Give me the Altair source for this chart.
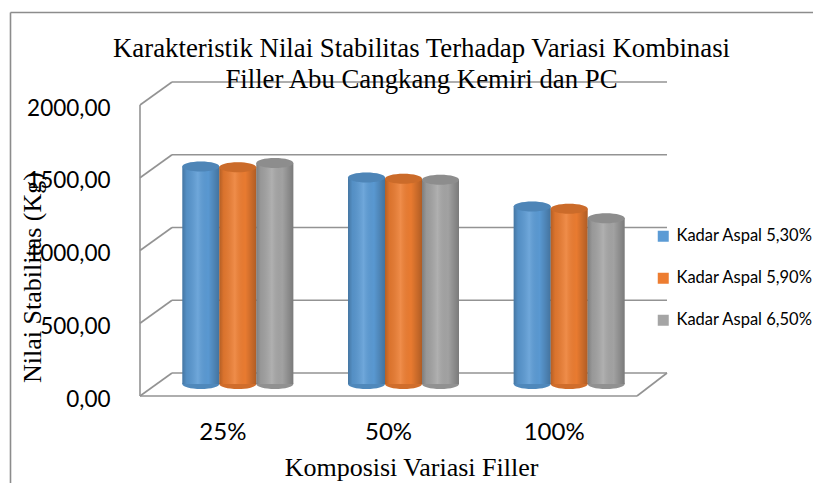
import altair as alt
import pandas as pd

categories = ["25%", "50%", "100%"]
series = ["Kadar Aspal 5,30%", "Kadar Aspal 5,90%", "Kadar Aspal 6,50%"]
vals_530 = [1495, 1420, 1220]
vals_590 = [1489, 1411, 1204]
vals_650 = [1519, 1404, 1140]
y_ticks = [0, 500, 1000, 1500, 2000]
colors = ["#5b9bd5", "#ed7d31", "#a5a5a5"]

title_lines = ["Karakteristik Nilai Stabilitas Terhadap Variasi Kombinasi",
               "Filler Abu Cangkang Kemiri dan PC"]
x_title = "Komposisi Variasi Filler"
y_title = "Nilai Stabilitas (Kg)"

rows = []
for s, vals in zip(series, [vals_530, vals_590, vals_650]):
    for c, v in zip(categories, vals):
        rows.append({"cat": c, "series": s, "value": v})
df = pd.DataFrame(rows)
grid_df = pd.DataFrame({"v": y_ticks})
one = pd.DataFrame({"k": [0]})

GRID = "#939393"
yscale = alt.Scale(domain=[0, 2000], nice=False, zero=True)
xscale = alt.Scale(domain=categories, paddingInner=0.33, paddingOuter=0.165)
cscale = alt.Scale(domain=series, range=colors)

y_axis = alt.Axis(values=y_ticks,
                  labelExpr="replace(format(datum.value, '.2f'), '.', ',')",
                  domain=False, ticks=False, tickSize=0, grid=False,
                  offset=15, labelOffset=15, labelPadding=30,
                  labelFont="Lato", labelFontSize=22.5, labelColor="black",
                  title=y_title, titleFont="Liberation Serif", titleFontSize=26,
                  titleFontWeight="normal", titleColor="black", titleAngle=270,
                  titleX=-100, titleY=184, titleAlign="center",
                  titleBaseline="alphabetic")
x_axis = alt.Axis(domain=False, ticks=False, tickSize=0, grid=False,
                  offset=12, labelOffset=-15, labelPadding=24, labelAngle=0,
                  labelFont="Lato", labelFontSize=24, labelColor="black",
                  title=x_title, titleFont="Liberation Serif", titleFontSize=26,
                  titleFontWeight="normal", titleColor="black",
                  titleX=256, titleY=79, titleAlign="center",
                  titleBaseline="alphabetic")


def yq(field=None, datum=None):
    if datum is not None:
        return alt.Y(datum=datum, type="quantitative", scale=yscale, axis=y_axis)
    return alt.Y(field, type="quantitative", scale=yscale, axis=y_axis)


# frame of the chart area
frame_top = alt.Chart(one).mark_rule(color="#8c8c8c", strokeWidth=1.6).encode(
    x=alt.value(-144.5), x2=alt.value(700), y=alt.value(-80.5))
frame_left = alt.Chart(one).mark_rule(color="#8c8c8c", strokeWidth=1.6).encode(
    x=alt.value(-144.5), y=alt.value(-80.5), y2=alt.value(450))

# back wall gridlines
back_grid = alt.Chart(grid_df).mark_rule(color=GRID, strokeWidth=1.6,
                                         yOffset=-11, y2Offset=-11).encode(
    x=alt.value(17), x2=alt.value(512), y=yq("v"), y2="v:Q")
# side wall diagonals
diag = alt.Chart(grid_df).mark_rule(color=GRID, strokeWidth=1.6,
                                    yOffset=12, y2Offset=-11).encode(
    x=alt.value(-15), x2=alt.value(17), y=yq("v"), y2="v:Q")
front_axis = alt.Chart(one).mark_rule(color=GRID, strokeWidth=1.6,
                                      yOffset=12, y2Offset=12).encode(
    x=alt.value(-15), y=yq(datum=0), y2=alt.datum(2000))
front_floor = alt.Chart(one).mark_rule(color=GRID, strokeWidth=1.6,
                                       yOffset=12, y2Offset=12).encode(
    x=alt.value(-15), x2=alt.value(482), y=yq(datum=0), y2=alt.datum(0))
right_diag = alt.Chart(one).mark_rule(color=GRID, strokeWidth=1.6,
                                      yOffset=12, y2Offset=-11).encode(
    x=alt.value(482), x2=alt.value(512), y=yq(datum=0), y2=alt.datum(0))

ELLIPSE = "M -1 0 A 1 0.27 0 1 1 1 0 A 1 0.27 0 1 1 -1 0 Z"
xenc = alt.X("cat:N", scale=xscale, sort=categories, axis=x_axis)
xoff = alt.XOffset("series:N", sort=series, scale=alt.Scale(paddingInner=0, paddingOuter=0))
legend = alt.Legend(orient="none", legendX=500, legendY=135, title=None,
                    symbolType="square", symbolSize=121, symbolStrokeWidth=0,
                    labelFont="Lato", labelFontSize=16.5, labelColor="black",
                    rowPadding=25, labelOffset=5, padding=0)
color = alt.Color("series:N", scale=cscale, sort=series, legend=legend)

base = alt.Chart(df)
bottom_ell = base.mark_point(shape=ELLIPSE, size=1369, filled=True, opacity=1,
                             strokeWidth=0).encode(
    x=xenc, xOffset=xoff, y=yq(datum=0), color=color)
bottom_shade = base.mark_point(shape=ELLIPSE, size=1369, filled=True,
                               color="black", opacity=0.12, strokeWidth=0).encode(
    x=xenc, xOffset=xoff, y=yq(datum=0))
bars = base.mark_bar().encode(
    x=xenc, xOffset=xoff, y=yq("value"), color=color)
grad = alt.Gradient(gradient="linear", x1=0, x2=1, y1=0, y2=0, stops=[
    alt.GradientStop(offset=0, color="rgba(0,0,0,0.24)"),
    alt.GradientStop(offset=0.12, color="rgba(0,0,0,0.08)"),
    alt.GradientStop(offset=0.42, color="rgba(255,255,255,0.12)"),
    alt.GradientStop(offset=0.7, color="rgba(0,0,0,0.02)"),
    alt.GradientStop(offset=1, color="rgba(0,0,0,0.26)"),
])
bar_shade = base.mark_bar(fill=grad).encode(
    x=xenc, xOffset=xoff, y=yq("value"))
top_ell = base.mark_point(shape=ELLIPSE, size=1369, filled=True, opacity=1,
                          strokeWidth=0).encode(
    x=xenc, xOffset=xoff, y=yq("value"), color=color)
top_shade = base.mark_point(shape=ELLIPSE, size=1369, filled=True,
                            color="black", opacity=0.14, strokeWidth=0).encode(
    x=xenc, xOffset=xoff, y=yq("value"))

chart = alt.layer(
    frame_top, frame_left, back_grid, diag, front_axis, front_floor, right_diag,
    bottom_ell, bottom_shade, bars, bar_shade, top_ell, top_shade
).properties(
    width=497, height=291,
    autosize=alt.AutoSizeParams(type="none"),
    padding={"left": 147, "top": 85, "right": 161, "bottom": 99},
    title=alt.TitleParams(text=title_lines, font="Liberation Serif", fontSize=26.8,
                          fontWeight="normal", color="black", lineHeight=31,
                          anchor="middle", dx=18, offset=6, baseline="alphabetic",
                          dy=109),
    background="white",
).configure_view(stroke=None)

chart.save("out.html", embed_options={"renderer": "svg", "actions": False})
